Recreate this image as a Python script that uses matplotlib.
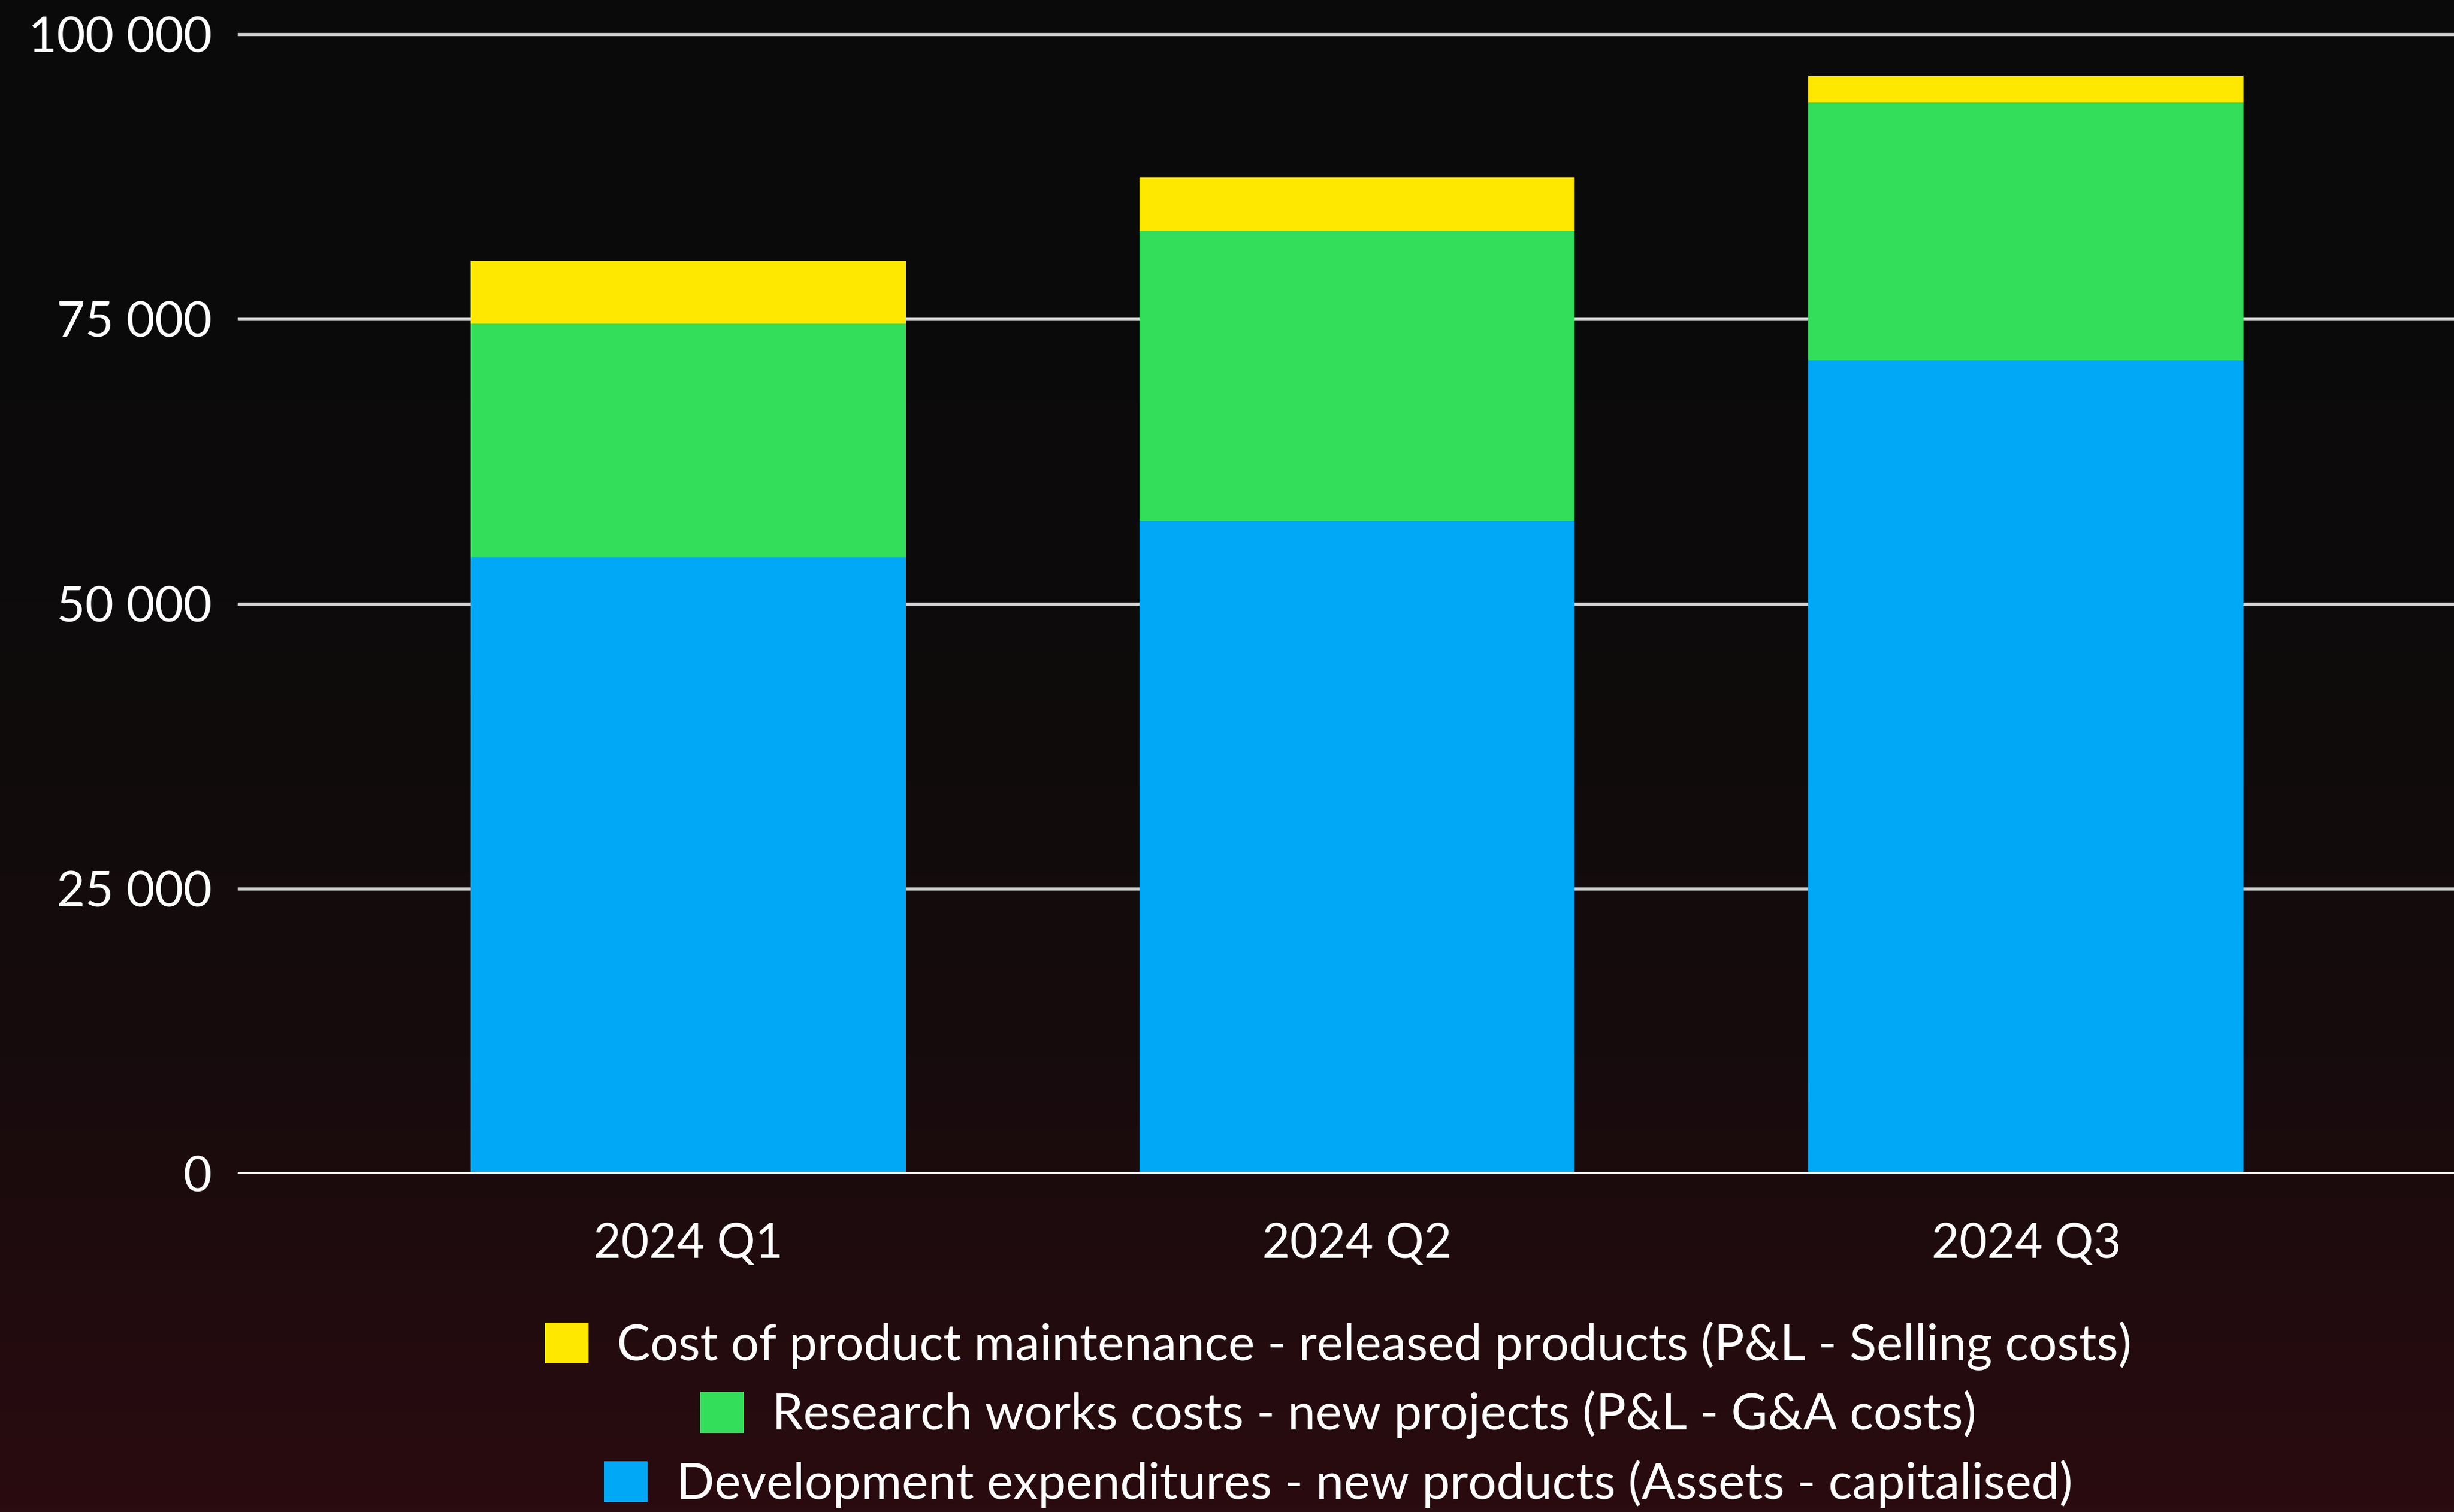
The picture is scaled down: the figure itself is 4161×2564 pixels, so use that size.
import matplotlib
matplotlib.use("Agg")
import matplotlib.pyplot as plt
import numpy as np
from matplotlib.colors import LinearSegmentedColormap
from matplotlib.ticker import FuncFormatter, FixedLocator

categories = ["2024 Q1", "2024 Q2", "2024 Q3"]
development = [54100, 57300, 71400]
research = [20500, 25400, 22600]
maintenance = [5500, 4700, 2300]
series_labels = [
    "Development expenditures - new products (Assets - capitalised)",
    "Research works costs - new projects (P&L - G&A costs)",
    "Cost of product maintenance - released products (P&L - Selling costs)",
]
yticks = [0, 25000, 50000, 75000, 100000]

C_BLUE = "#00A8F5"
C_GREEN = "#33DE5A"
C_YELLOW = "#FFE800"

plt.rcParams['font.family'] = ['Lato', 'DejaVu Sans']

W, H, DPI = 4161, 2564, 300
fig = plt.figure(figsize=(W / DPI, H / DPI), dpi=DPI)

# background gradient
bg = fig.add_axes([0, 0, 1, 1], zorder=-10)
cmap = LinearSegmentedColormap.from_list(
    "bg", [(0.0, "#0a0a0a"), (0.4, "#0d0b0b"), (0.7, "#170c0d"), (1.0, "#2a0b10")])
grad = np.linspace(0, 1, 512).reshape(-1, 1)
bg.imshow(grad, aspect="auto", cmap=cmap, extent=[0, 1, 0, 1], origin="upper")
bg.set_axis_off()

ytop = 102000
left = 403 / W
bottom = (H - 1990) / H
h100 = (1990 - 58) / H
height = h100 * ytop / 100000
ax = fig.add_axes([left, bottom, 1 - left, height])
ax.set_facecolor("none")

x = np.arange(len(categories))
width = 0.651
b1 = ax.bar(x, development, width, color=C_BLUE, zorder=3, label=series_labels[0])
b2 = ax.bar(x, research, width, bottom=development, color=C_GREEN, zorder=3, label=series_labels[1])
bot3 = [d + r for d, r in zip(development, research)]
b3 = ax.bar(x, maintenance, width, bottom=bot3, color=C_YELLOW, zorder=3, label=series_labels[2])

ax.set_xlim(-0.674, 2.64)
ax.set_ylim(0, ytop)
ax.yaxis.set_major_locator(FixedLocator(yticks))
ax.yaxis.set_major_formatter(FuncFormatter(lambda v, p: f"{v:,.0f}".replace(",", " ")))
ax.set_xticks(x)
ax.set_xticklabels(categories)

for s in ax.spines.values():
    s.set_visible(False)
ax.tick_params(axis="y", length=0, pad=10.5, labelsize=20, labelcolor="white")
ax.tick_params(axis="x", length=0, pad=20, labelsize=19.5, labelcolor="white")

ax.yaxis.grid(True, color="#d4d4d4", linewidth=1.3, zorder=1)
ax.set_axisbelow(True)
ax.axhline(0, color="white", linewidth=1.6, zorder=4)

# legend rows, each centred
rows = [(b3, series_labels[2], 2282), (b2, series_labels[1], 2399), (b1, series_labels[0], 2516)]
for handle, lab, ypx in rows:
    fig.legend([handle], [lab], loc="center", bbox_to_anchor=(855 / 1568, 1 - ypx / H),
               frameon=False, fontsize=20.3, labelcolor="white",
               handlelength=0.88, handleheight=0.88, handletextpad=0.57,
               borderpad=0, borderaxespad=0)

fig.savefig("out.png", dpi=DPI, facecolor="#0a0a0a")
